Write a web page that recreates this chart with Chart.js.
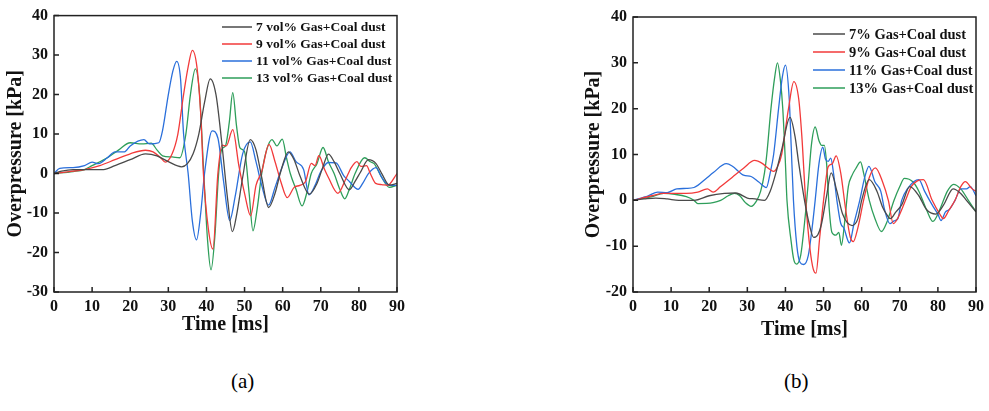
<!DOCTYPE html>
<html>
<head>
<meta charset="utf-8">
<script src="https://cdn.jsdelivr.net/npm/chart.js@4"></script>
<style>
  body { margin: 0; background: #fff; }
  #wrap { position: relative; width: 989px; height: 411px; overflow: hidden; }
  canvas { position: absolute; top: 0; }
  .cap { position: absolute; top: 369px; font: 21px "Liberation Serif", serif; color: #000; }
</style>
</head>
<body>
<div id="wrap">
  <canvas id="chartA" width="420" height="345" style="left:0"></canvas>
  <canvas id="chartB" width="409" height="345" style="left:580px"></canvas>
  <div class="cap" style="left:231px">(a)</div>
  <div class="cap" style="left:784px">(b)</div>
</div>
<script>
// ---- data, chart (a) ----
var labelsA = ['7 vol% Gas+Coal dust', '9 vol% Gas+Coal dust', '11 vol% Gas+Coal dust', '13 vol% Gas+Coal dust'];
var tA7 = [0,2,5,8,11,13,16,20,24,27,30,33.5,35,36.5,38,39.5,41,42.5,44,45.5,46.8,48,49.5,51.5,53,54.5,56.3,58,59.5,61.5,63,64.5,67,69,70.5,72,73.5,75,77.5,79,80.5,82.5,84.5,86,88,90];
var pA7 = [0,0.6,1,1,1,1,2,3.5,5,4.5,3,1.7,2.5,5,10,18,24,20,8,-6,-14.7,-10,-1,8.6,6,-1,-8.6,-5,0.5,5.5,3.5,-0.5,-5.2,-2.5,1.5,4.9,3,0,-4.1,-2,0.5,3.5,2.5,0,-2.9,-2.5];
var tA9 = [0,4,8,12,16,20,24,26,28,29.2,31,32.5,34,35.2,36.3,37.5,38.5,39.2,40.5,41.7,43,44.1,45.2,46.9,48.5,50,51.6,53,54.5,56.4,58,59.5,61.2,63,64.5,66,67.5,68.5,69.5,71,72,74.5,76.5,78,79.5,80.5,82,83,84.4,86,87.5,90];
var pA9 = [0,0.5,1,2,3.5,5,5.9,5.5,4,2.9,5,10,20,27,31.2,27,15,0,-14,-19.1,0,7.2,7,11.1,2,-5,-10.7,-3,0.5,7.4,3,-2,-6.1,-3.5,-3,-2,2.6,2,4.5,1,-1,-5,-1.5,1.5,3,1.8,2,0,-2.5,-2.8,-3,0];
var tA11 = [0,1.5,5,8,10,11.5,14,16,18.5,20,23.6,25,27.5,28.5,30,31.2,32.2,33.2,34,35.2,36.3,37.4,38.5,39.5,41.5,43,44.5,46.1,47.5,49.5,51.5,53,54.5,56.3,58,60,61.9,63.5,65.5,66.9,68.5,70,72,74,76,77.5,79.8,81,82.5,84.5,86,88,90];
var pA11 = [0,1.3,1.5,2,2.9,2.5,4,5.5,5.5,7,8.6,7.5,7.8,11,20,26,28.4,24,10,0,-12,-16.8,-10,0,10.8,9,-2,-11.9,-6,5,8,3,-3,-8,-3.5,2,5.5,3,1,-5.4,-3,0.5,2.8,2.7,-0.5,-2,-4,-2.5,0,1.5,-1,-3,-3];
var tA13 = [0,5,8,10,14,17,20,23,25.5,27,28.5,31,33,34.6,35.8,37.1,38.2,39.3,40.3,41.2,42.2,43.2,44,45,46,46.9,47.9,48.8,50,51.2,52.2,53.3,54.5,55.8,57.2,58.5,59.9,61,62,63.5,65.1,66.3,67.5,69,70.6,72,73.5,75,76.3,77.5,79,81.5,83,84,86,88,90];
var pA13 = [0,0.5,1,2,4,6,7.8,7.5,7.7,6,4.5,4.2,4,10,20,26.5,20,0,-17,-24.4,-16,0,6.1,7,13,20.5,12,6.5,5.5,-5,-14.5,-9,0,6,8.6,7,8.7,4,0,-4,-8.2,-5,0,2.5,6.6,3,0,-4,-6.4,-4,0,4,3,2.5,-1,-3.5,-3];
var yTicksA = [-30, 40];

// ---- data, chart (b) ----
var labelsB = ['7% Gas+Coal dust', '9% Gas+Coal dust', '11% Gas+Coal dust', '13% Gas+Coal dust'];
var tB7 = [0,3,6,9,12,16,20,24,27,30,32,34.5,36,37.5,39,41.2,42.5,43.5,45,46.2,47.4,48.5,49.5,50.8,52,53.5,55,57.5,59,60,62,64,65.5,66.5,67.5,69,70.5,72.6,75,77,79.5,81.5,84,86,87.5,90];
var pB7 = [0,0.3,0.5,0.3,0,0,1,1.5,1.6,0.5,0.3,0,2,6,11,18.1,14,8,0,-5,-8.1,-7.5,-5,1,6,2,-3,-5.5,-4,0,4.5,2,-1.5,-3,-4,-2.5,-1,3,1,-2,-3,-1,2.5,1.5,0,-2.5];
var tB9 = [0,5,8,14,17,19.5,21,23,26,29,31.9,34,35.5,36.9,38,39,40.8,42.2,43.5,44.3,45.3,46.5,47.3,48,49,50,51.2,52.3,53.3,54.5,55.8,57,57.8,59,60.5,62,63.6,65.5,67,68.3,70,71.5,73,74.5,76.2,78.5,80.5,81.4,83,84.5,86,87.2,89,90];
var pB9 = [0,1,1.5,1.5,1.8,2.5,1.8,3,5,7,8.7,8,7,6.3,7.5,10,20,25.9,22,14,0,-11,-15,-15.9,-8,0,7.3,8,9.7,6,-2,-8,-9,-6,0,5,7.1,4,0,-5.1,-3,0,3,4.2,4.5,0,-3,-4,-2,0,3,4.1,2.5,2];
var tB11 = [0,4,6.5,9,11.5,14,16,19.5,21,24.5,26,29,31,33,35,36,36.9,38.2,39.2,40,41,41.5,42.1,43,43.8,44.8,46,47,47.8,48.8,49.8,50.5,51.2,51.9,52.6,53.5,54.5,55.3,56.8,58,59.5,60.8,61.9,63.5,65,66,67.4,68.5,69.5,70.5,72,75,76.5,78.5,80,80.8,82,83,84.5,86,87.5,88.5,90];
var pB11 = [0,1,1.8,1.7,2.5,2.6,2.8,5,6,8,7.5,5.5,5.2,4,2.8,6,10,20,27,29.5,22,12,0,-10,-13.5,-14,-12,-6,0,8,11.6,9,8.5,9.2,6,0,-5,-6,-9.3,-5,0,5,7.4,4,2,-2,-5.1,-4.5,-4,0,2.5,4.5,2,-1,-3,-4.4,-2.5,-2,0,2.5,2.5,3,1];
var tB13 = [0,5,8,11,14,16,17,21,23,25,26.6,28,29.5,31,32.5,33.5,34.5,35.1,36.2,37.2,37.9,38.7,39.3,40,40.4,41.5,42.2,42.9,44,45,46,46.8,47.8,48.8,49.5,50.2,50.8,51.5,52.2,53.2,54,54.7,55.5,56.5,57.5,58.5,59.7,60.5,62,63.5,65.2,66.5,68.5,70,71.2,73.5,75,77,78.7,80.5,82.5,84.1,86,88,90];
var pB13 = [0,0.8,1.5,1.3,0.8,0,-0.7,-0.5,0,1,1.5,1,-0.5,-1.3,0,2,6,10,20,27,30,26,20,8,0,-9,-13,-13.9,-12,-5,4,12,16,13,12,12,8,-2,-7,-7.6,-7,-9.8,-5,3,5.5,7,8.4,6,0,-4,-6.8,-5,0,3,4.8,4,2,-2,-4.6,-2,2,3.5,2.5,0,-2.5];
var yTicksB = [-20, 40];

var xRange = [0, 90];
var colors = ['#4a4a4a', '#f23a3a', '#2a6fdb', '#2e9e5a'];
var serif = '"Liberation Serif", "Times New Roman", serif';

function pts(t, p) {
  return t.map(function (v, i) { return { x: v, y: p[i] }; });
}

// box around the plot and inward tick marks
var framePlugin = {
  id: 'frame',
  afterDraw: function (chart) {
    var ctx = chart.ctx, a = chart.chartArea, sx = chart.scales.x, sy = chart.scales.y;
    ctx.save();
    ctx.strokeStyle = '#222';
    ctx.lineWidth = 1.5;
    ctx.strokeRect(a.left, a.top, a.right - a.left, a.bottom - a.top);
    ctx.beginPath();
    sx.ticks.forEach(function (t) {
      var px = sx.getPixelForValue(t.value);
      ctx.moveTo(px, a.bottom); ctx.lineTo(px, a.bottom - 5);
    });
    sy.ticks.forEach(function (t) {
      var py = sy.getPixelForValue(t.value);
      ctx.moveTo(a.left, py); ctx.lineTo(a.left + 5, py);
    });
    ctx.stroke();
    ctx.restore();
  }
};

// legend drawn inside the plot, top right
var boxLegend = {
  id: 'boxLegend',
  afterDatasetsDraw: function (chart, args, o) {
    var ctx = chart.ctx;
    ctx.save();
    ctx.font = 'bold ' + o.size + 'px ' + serif;
    ctx.textBaseline = 'middle';
    ctx.fillStyle = '#111';
    chart.data.datasets.forEach(function (ds, i) {
      var y = o.y + i * o.dy;
      ctx.strokeStyle = ds.borderColor;
      ctx.lineWidth = 1.5;
      ctx.beginPath();
      ctx.moveTo(o.x, y); ctx.lineTo(o.x + o.len, y);
      ctx.stroke();
      ctx.fillText(ds.label, o.x + o.len + o.gap, y + 1);
    });
    ctx.restore();
  }
};

function makeChart(id, labels, series, yLim, lay) {
  var tickFont = { family: serif, size: 16, weight: 'bold' };
  var titleFont = { family: serif, size: 20, weight: 'bold' };
  return new Chart(document.getElementById(id), {
    type: 'line',
    data: {
      datasets: series.map(function (s, i) {
        return {
          label: labels[i],
          data: pts(s[0], s[1]),
          borderColor: colors[i],
          borderWidth: 1.3,
          pointRadius: 0,
          cubicInterpolationMode: 'monotone',
          fill: false
        };
      })
    },
    options: {
      responsive: false,
      animation: false,
      layout: { padding: { left: 0, right: lay.right, top: lay.top, bottom: 0 } },
      plugins: {
        legend: { display: false },
        tooltip: { enabled: false },
        boxLegend: lay.legend
      },
      scales: {
        x: {
          type: 'linear',
          min: xRange[0], max: xRange[1],
          grid: { display: false, drawTicks: false },
          border: { display: false },
          ticks: { stepSize: 10, font: tickFont, color: '#111', padding: 5, maxRotation: 0 },
          title: { display: true, text: 'Time [ms]', font: titleFont, color: '#111', padding: { top: 0, bottom: lay.xTitlePad } },
          afterFit: function (s) { s.height = lay.xH; }
        },
        y: {
          min: yLim[0], max: yLim[1],
          grid: { display: false, drawTicks: false },
          border: { display: false },
          ticks: { stepSize: 10, font: tickFont, color: '#111', padding: 6 },
          title: { display: true, text: 'Overpressure [kPa]', font: titleFont, color: '#111', padding: { top: lay.yTitlePad, bottom: 0 } },
          afterFit: function (s) { s.width = lay.yW; }
        }
      }
    },
    plugins: [framePlugin, boxLegend]
  });
}

makeChart('chartA', labelsA,
  [[tA7, pA7], [tA9, pA9], [tA11, pA11], [tA13, pA13]], yTicksA,
  { right: 23, top: 14, xH: 53, yW: 54, xTitlePad: 8, yTitlePad: 4,
    legend: { x: 222, y: 27, dy: 17, len: 30, gap: 4, size: 13.5 } });

makeChart('chartB', labelsB,
  [[tB7, pB7], [tB9, pB9], [tB11, pB11], [tB13, pB13]], yTicksB,
  { right: 10, top: 17, xH: 53, yW: 53, xTitlePad: 3, yTitlePad: 2,
    legend: { x: 233, y: 34, dy: 18, len: 32, gap: 4, size: 14.5 } });
</script>
</body>
</html>
